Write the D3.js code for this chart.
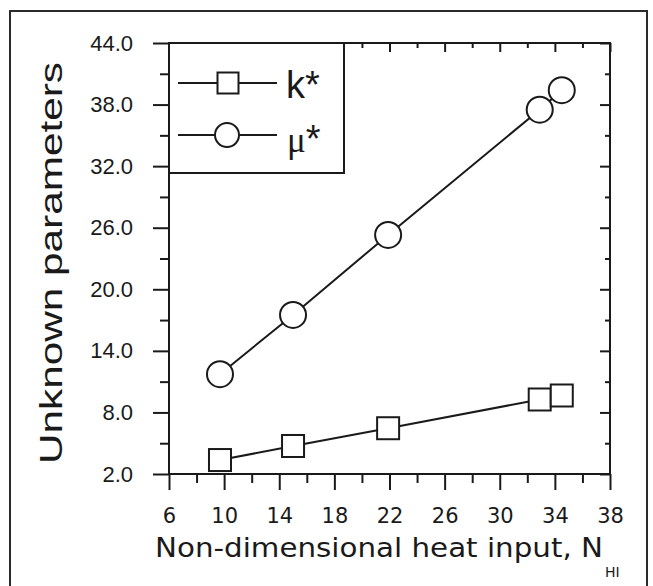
<!DOCTYPE html>
<html>
<head>
<meta charset="utf-8">
<script src="https://cdn.jsdelivr.net/npm/d3@7"></script>
<style>
  html, body { margin: 0; padding: 0; background: #ffffff; }
  svg { display: block; }
</style>
</head>
<body>
<svg id="chart"></svg>
<script>
// values
const heatInput = [9.7, 15.0, 21.9, 32.9, 34.5];
const kStar = [3.36, 4.73, 6.46, 9.26, 9.65];
const muStar = [11.73, 17.5, 25.3, 37.5, 39.4];

const xMajorTicks = [6, 10, 14, 18, 22, 26, 30, 34, 38];
const xMinorTicks = [8, 12, 16, 20, 24, 28, 32, 36];
const yMajorTicks = [2, 8, 14, 20, 26, 32, 38, 44];
const yMinorTicks = [5, 11, 17, 23, 29, 35, 41];

const WIDTH = 653;
const HEIGHT = 586;
const PLOT = { left: 169, right: 610, top: 43, bottom: 474 };
const INK = '#1a1a1a';

const root = d3.select('#chart')
  .attr('width', WIDTH)
  .attr('height', HEIGHT)
  .attr('viewBox', `0 0 ${WIDTH} ${HEIGHT}`);

// outer frame of the figure (bottom edge runs past the picture)
root.append('rect')
  .attr('x', 10)
  .attr('y', 11)
  .attr('width', 637)
  .attr('height', 620)
  .attr('fill', 'none')
  .attr('stroke', '#2a2a2a')
  .attr('stroke-width', 2);

const x = d3.scaleLinear().domain([6, 38]).range([PLOT.left, PLOT.right]);
const y = d3.scaleLinear().domain([2, 44]).range([PLOT.bottom, PLOT.top]);

function styleAxis(g) {
  g.select('.domain').remove();
  g.selectAll('.tick line').attr('stroke', INK).attr('stroke-width', 2);
  return g;
}

// bottom axis: outward ticks with labels
root.append('g')
  .attr('transform', `translate(0, ${PLOT.bottom})`)
  .call(d3.axisBottom(x).tickValues(xMajorTicks).tickSize(16).tickPadding(18))
  .call(styleAxis)
  .call((g) => g.selectAll('.tick text')
    .attr('fill', INK)
    .attr('font-size', 21)
    .attr('font-family', '"DejaVu Sans", Verdana, sans-serif'));

root.append('g')
  .attr('transform', `translate(0, ${PLOT.bottom})`)
  .call(d3.axisBottom(x).tickValues(xMinorTicks).tickSize(9).tickFormat(''))
  .call(styleAxis);

// top axis: inward ticks, no labels
root.append('g')
  .attr('transform', `translate(0, ${PLOT.top})`)
  .call(d3.axisBottom(x).tickValues(xMajorTicks).tickSize(9).tickFormat(''))
  .call(styleAxis);

root.append('g')
  .attr('transform', `translate(0, ${PLOT.top})`)
  .call(d3.axisBottom(x).tickValues(xMinorTicks).tickSize(5).tickFormat(''))
  .call(styleAxis);

// left axis: outward ticks with labels
root.append('g')
  .attr('transform', `translate(${PLOT.left}, 0)`)
  .call(d3.axisLeft(y).tickValues(yMajorTicks).tickSize(16).tickPadding(20).tickFormat(d3.format('.1f')))
  .call(styleAxis)
  .call((g) => g.selectAll('.tick text')
    .attr('fill', INK)
    .attr('font-size', 22)
    .attr('font-family', '"Liberation Sans", Arial, sans-serif'));

root.append('g')
  .attr('transform', `translate(${PLOT.left}, 0)`)
  .call(d3.axisLeft(y).tickValues(yMinorTicks).tickSize(9).tickFormat(''))
  .call(styleAxis);

// right axis: inward ticks, no labels
root.append('g')
  .attr('transform', `translate(${PLOT.right}, 0)`)
  .call(d3.axisLeft(y).tickValues(yMajorTicks).tickSize(10).tickFormat(''))
  .call(styleAxis);

root.append('g')
  .attr('transform', `translate(${PLOT.right}, 0)`)
  .call(d3.axisLeft(y).tickValues(yMinorTicks).tickSize(5).tickFormat(''))
  .call(styleAxis);

// plot frame
root.append('rect')
  .attr('x', PLOT.left)
  .attr('y', PLOT.top)
  .attr('width', PLOT.right - PLOT.left)
  .attr('height', PLOT.bottom - PLOT.top)
  .attr('fill', 'none')
  .attr('stroke', INK)
  .attr('stroke-width', 2);

// series lines
const line = d3.line()
  .x((d) => x(d[0]))
  .y((d) => y(d[1]));

const kPoints = heatInput.map((v, i) => [v, kStar[i]]);
const muPoints = heatInput.map((v, i) => [v, muStar[i]]);

[kPoints, muPoints].forEach((points) => {
  root.append('path')
    .datum(points)
    .attr('d', line)
    .attr('fill', 'none')
    .attr('stroke', INK)
    .attr('stroke-width', 2);
});

const SQUARE = 22;
const RADIUS = 13;

root.append('g')
  .selectAll('rect')
  .data(kPoints)
  .join('rect')
  .attr('x', (d) => x(d[0]) - SQUARE / 2)
  .attr('y', (d) => y(d[1]) - SQUARE / 2)
  .attr('width', SQUARE)
  .attr('height', SQUARE)
  .attr('fill', '#ffffff')
  .attr('stroke', INK)
  .attr('stroke-width', 2);

root.append('g')
  .selectAll('circle')
  .data(muPoints)
  .join('circle')
  .attr('cx', (d) => x(d[0]))
  .attr('cy', (d) => y(d[1]))
  .attr('r', RADIUS)
  .attr('fill', '#ffffff')
  .attr('stroke', INK)
  .attr('stroke-width', 2);

// legend box in the upper left corner of the plot
const legend = root.append('g');

legend.append('rect')
  .attr('x', PLOT.left)
  .attr('y', PLOT.top)
  .attr('width', 175)
  .attr('height', 130)
  .attr('fill', '#ffffff')
  .attr('stroke', INK)
  .attr('stroke-width', 2);

[83, 135].forEach((ly) => {
  legend.append('line')
    .attr('x1', 178)
    .attr('x2', 277)
    .attr('y1', ly)
    .attr('y2', ly)
    .attr('stroke', INK)
    .attr('stroke-width', 2);
});

legend.append('rect')
  .attr('x', 228 - 10.5)
  .attr('y', 83 - 10.5)
  .attr('width', 21)
  .attr('height', 21)
  .attr('fill', '#ffffff')
  .attr('stroke', INK)
  .attr('stroke-width', 2);

legend.append('circle')
  .attr('cx', 227)
  .attr('cy', 135)
  .attr('r', 12)
  .attr('fill', '#ffffff')
  .attr('stroke', INK)
  .attr('stroke-width', 2);

legend.append('text')
  .attr('x', 286)
  .attr('y', 98)
  .attr('fill', INK)
  .attr('font-size', 38)
  .attr('font-family', '"Liberation Sans", Arial, sans-serif')
  .text('k*');

const muLabel = legend.append('text')
  .attr('x', 287)
  .attr('y', 152)
  .attr('fill', INK)
  .attr('font-size', 38)
  .attr('font-family', '"Liberation Sans", Arial, sans-serif');

muLabel.append('tspan')
  .attr('font-family', '"Liberation Serif", "Times New Roman", serif')
  .attr('font-size', 35)
  .text('μ');

muLabel.append('tspan')
  .text('*');

// axis titles
root.append('text')
  .attr('transform', 'translate(62, 263) rotate(-90)')
  .attr('text-anchor', 'middle')
  .attr('fill', INK)
  .attr('font-size', 31)
  .attr('font-family', '"Liberation Sans", Arial, sans-serif')
  .attr('textLength', 402)
  .attr('lengthAdjust', 'spacingAndGlyphs')
  .text('Unknown parameters');

root.append('text')
  .attr('x', 155)
  .attr('y', 557)
  .attr('fill', INK)
  .attr('font-size', 27)
  .attr('font-family', '"DejaVu Sans", Verdana, sans-serif')
  .attr('textLength', 448)
  .attr('lengthAdjust', 'spacingAndGlyphs')
  .text('Non-dimensional heat input, N');

root.append('text')
  .attr('x', 605)
  .attr('y', 577)
  .attr('fill', INK)
  .attr('font-size', 14)
  .attr('font-family', '"DejaVu Sans", Verdana, sans-serif')
  .text('HI');
</script>
</body>
</html>
